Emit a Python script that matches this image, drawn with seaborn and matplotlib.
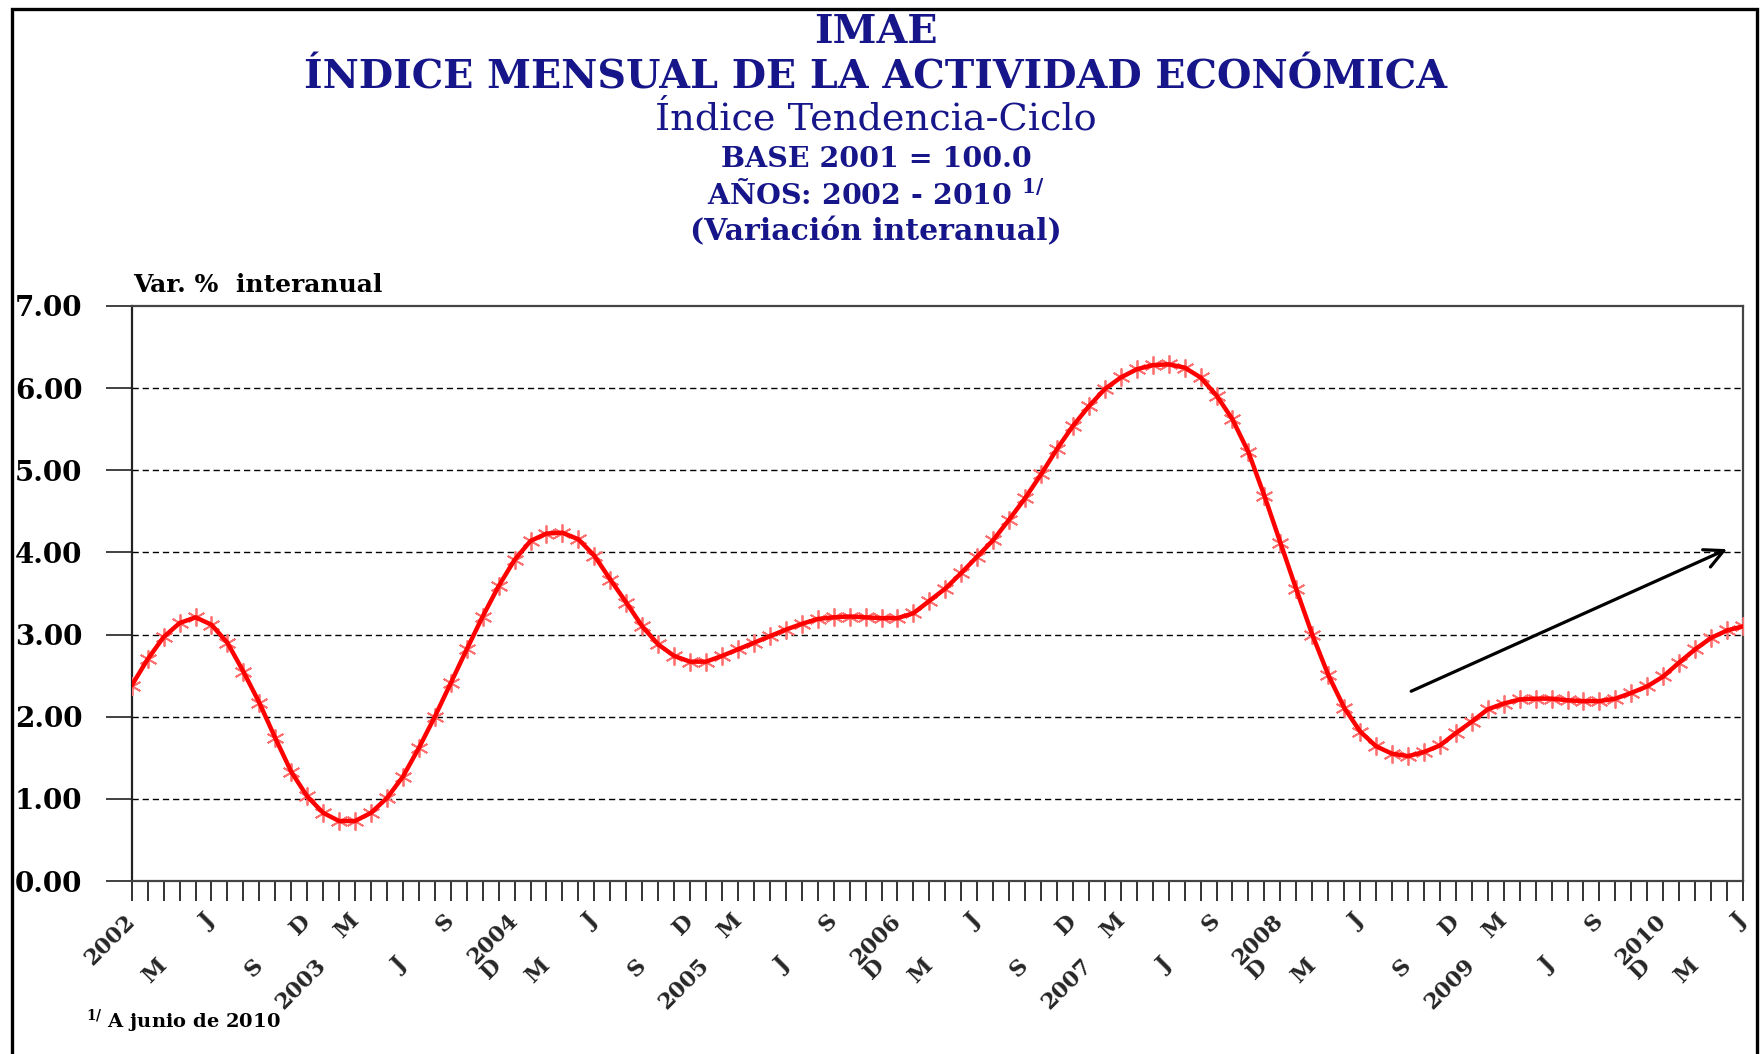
import numpy as np
import pandas as pd
import matplotlib
matplotlib.use("Agg")
import matplotlib.pyplot as plt
import seaborn as sns
from matplotlib.patches import Rectangle

# ---------------- data ----------------
months = pd.date_range("2002-01-01", periods=102, freq="MS")
values = [
    # 2002
    2.38, 2.70, 2.97, 3.14, 3.21, 3.12, 2.90, 2.55, 2.17, 1.74, 1.33, 1.03,
    # 2003
    0.83, 0.73, 0.73, 0.83, 1.01, 1.27, 1.62, 2.00, 2.41, 2.82, 3.22, 3.59,
    # 2004
    3.91, 4.14, 4.23, 4.24, 4.16, 3.96, 3.67, 3.39, 3.10, 2.88, 2.74, 2.67,
    # 2005
    2.67, 2.74, 2.82, 2.90, 2.98, 3.06, 3.13, 3.19, 3.21, 3.22, 3.21, 3.20,
    # 2006
    3.20, 3.26, 3.41, 3.56, 3.75, 3.95, 4.15, 4.40, 4.66, 4.95, 5.26, 5.54,
    # 2007
    5.78, 5.99, 6.13, 6.23, 6.28, 6.29, 6.25, 6.13, 5.91, 5.62, 5.22, 4.69,
    # 2008
    4.12, 3.55, 3.00, 2.51, 2.11, 1.82, 1.64, 1.55, 1.52, 1.57, 1.65, 1.80,
    # 2009
    1.94, 2.09, 2.16, 2.21, 2.22, 2.22, 2.20, 2.19, 2.19, 2.22, 2.29, 2.37,
    # 2010
    2.49, 2.66, 2.82, 2.96, 3.05, 3.10,
]
# month letters used as tick labels (January shows the year)
month_letters = {3: "M", 6: "J", 9: "S", 12: "D"}
y_ticks = [0, 1, 2, 3, 4, 5, 6, 7]
arrow_start = (80.2, 2.31)
arrow_end = (100.0, 4.04)

title_lines = ["IMAE", "ÍNDICE MENSUAL DE LA ACTIVIDAD ECONÓMICA", "Índice Tendencia-Ciclo",
               "BASE 2001 = 100.0", "AÑOS: 2002 - 2010 $^{\\mathbf{1/}}$", "(Variación interanual)"]
y_label = "Var. %  interanual"
footnote = "$^{\\mathbf{1/}}$ A junio de 2010"

# ---------------- style ----------------
sns.set_theme(style="white")
plt.rcParams["font.family"] = ["DejaVu Serif"]
plt.rcParams["mathtext.fontset"] = "dejavuserif"
plt.rcParams["font.weight"] = "bold"

W, H = 1763, 1054
fig = plt.figure(figsize=(W / 100, H / 100), dpi=100)
fig.patch.set_facecolor("white")
ax = fig.add_axes([131.7 / W, 1 - 881 / H, (1743 - 131.7) / W, (881 - 306) / H])
ax.set_facecolor("white")

df = pd.DataFrame({"t": np.arange(len(values)), "v": values, "month": months})

# markers (behind), then the line
sns.lineplot(data=df, x="t", y="v", ax=ax, linestyle="none", marker=(6, 2, 0),
             markersize=13, markeredgewidth=1.3, markeredgecolor="#ff7070",
             color="#ff7070", zorder=3)
sns.lineplot(data=df, x="t", y="v", ax=ax, color="#ff0000", linewidth=3.2, zorder=4)

ax.set_xlim(0, len(values) - 1)
ax.set_ylim(0, 7)
ax.set_xlabel("")
ax.set_ylabel("")

# grid
for yv in y_ticks[1:-1]:
    ax.axhline(yv, color="black", lw=1.0, linestyle=(0, (4.5, 2.8)), zorder=1)

# y ticks
ax.set_yticks(y_ticks, [f"{v:.2f}" for v in y_ticks])
ax.tick_params(axis="y", direction="out", length=18.5, width=1.3, color="#333333",
               pad=17, labelsize=20, labelcolor="black", left=True)
for lab in ax.get_yticklabels():
    lab.set_fontweight("bold")

# x ticks: labelled months alternate between two rows
labelled = []
for t, m in zip(df["t"], df["month"]):
    if m.month == 1:
        labelled.append((t, str(m.year)))
    elif m.month in month_letters:
        labelled.append((t, month_letters[m.month]))
upper = [(t, s) for k, (t, s) in enumerate(labelled) if k % 2 == 0]
lower = dict((t, s) for k, (t, s) in enumerate(labelled) if k % 2 == 1)
upper_pos = [t for t, _ in upper]
minor_pos = [t for t in df["t"] if t not in upper_pos]
ax.set_xticks(upper_pos, [s for _, s in upper])
ax.set_xticks(minor_pos, [lower.get(t, "") for t in minor_pos], minor=True)
ax.tick_params(axis="x", which="both", direction="out", length=14.4, width=1.3,
               color="#222222", labelsize=16, bottom=True)
ax.tick_params(axis="x", which="major", pad=12)
ax.tick_params(axis="x", which="minor", pad=44)
for lab in ax.get_xticklabels() + ax.get_xticklabels(minor=True):
    lab.set_rotation(45)
    lab.set_ha("right")
    lab.set_va("center")
    lab.set_rotation_mode("anchor")
    lab.set_fontweight("bold")

for side, sp in ax.spines.items():
    sp.set_visible(True)
    sp.set_color("#444444" if side != "left" else "#222222")
    sp.set_linewidth(1.6)

# arrow
ax.annotate("", xy=arrow_end, xytext=arrow_start,
            arrowprops=dict(arrowstyle="->", lw=2.3, color="black", mutation_scale=34,
                            shrinkA=0, shrinkB=0), zorder=5)

# titles
navy = "#16168a"
cx = 876 / W
fig.text(cx, 1 - 43.3 / H, title_lines[0], ha="center", va="baseline", color=navy,
         fontsize=28.5, fontweight="bold")
fig.text(cx, 1 - 88.3 / H, title_lines[1], ha="center", va="baseline", color=navy,
         fontsize=28.5, fontweight="bold")
fig.text(cx, 1 - 130 / H, title_lines[2], ha="center", va="baseline", color=navy,
         fontsize=27.5, fontweight="normal")
fig.text(cx, 1 - 166.7 / H, title_lines[3], ha="center", va="baseline", color=navy,
         fontsize=20.5, fontweight="bold")
fig.text(cx, 1 - 204 / H, title_lines[4], ha="center", va="baseline", color=navy,
         fontsize=20.5, fontweight="bold")
fig.text(cx, 1 - 240 / H, title_lines[5], ha="center", va="baseline", color=navy,
         fontsize=21.5, fontweight="bold")

fig.text(133 / W, 1 - 291.7 / H, y_label, ha="left", va="baseline", color="black",
         fontsize=18, fontweight="bold")
fig.text(86 / W, 1 - 1028 / H, footnote, ha="left", va="baseline", color="black",
         fontsize=14, fontweight="bold")

# outer frame
fig.add_artist(Rectangle((12 / W, -0.05), (1757 - 12) / W, 1.05 - 9 / H,
                         transform=fig.transFigure, fill=False, lw=2.4,
                         edgecolor="black", zorder=10))

fig.savefig("out.png", dpi=100, facecolor="white")
